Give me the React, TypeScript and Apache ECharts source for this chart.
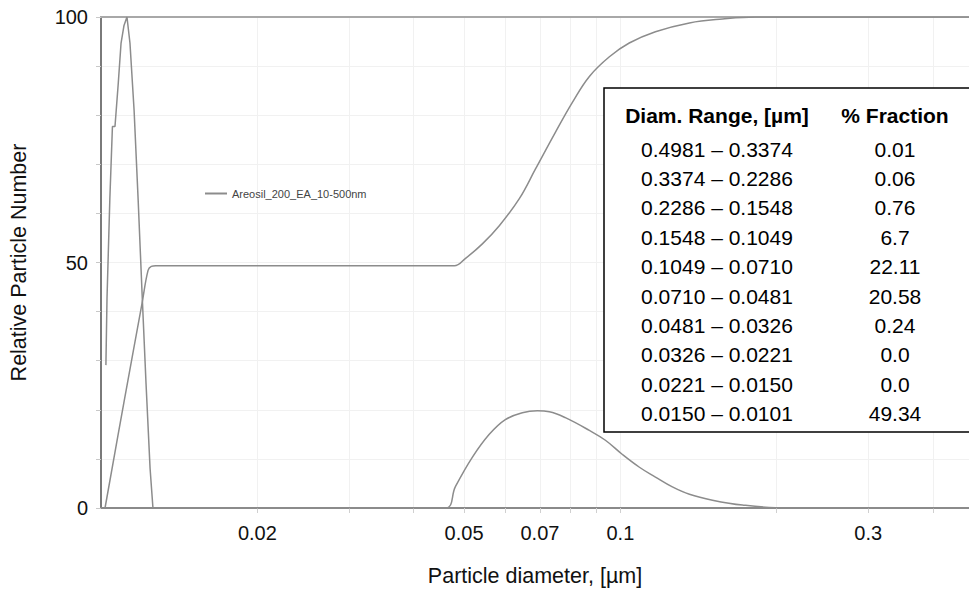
import React, { useEffect, useRef } from "react";
import * as echarts from "echarts";

// ---- Data (diameters in µm, values in relative particle number) ----
const seriesName = "Areosil_200_EA_10-500nm";

// Narrow spike of the number distribution
const spikeDiam = [0.01022, 0.01027, 0.01040, 0.01052, 0.01064, 0.01079, 0.01093, 0.01107, 0.01122, 0.01137, 0.01158, 0.01179, 0.01200, 0.01221, 0.01243, 0.01259];
const spikeValue = [29.1, 42.7, 63.0, 77.7, 77.7, 86.2, 94.7, 98.2, 100, 94.7, 81.0, 62.8, 43.5, 25.3, 8.1, 0];

// Second (broad) mode of the number distribution
const bellDiam = [0.01259, 0.0460, 0.0481, 0.05186, 0.05592, 0.06004, 0.06474, 0.06921, 0.07297, 0.07834, 0.08715, 0.09357, 0.1009, 0.1088, 0.1168, 0.1259, 0.1358, 0.1504, 0.1718, 0.2098, 0.469];
const bellValue = [0, 0, 4.3, 10.3, 15.0, 18.0, 19.4, 19.8, 19.6, 18.4, 15.8, 13.8, 10.9, 8.3, 6.3, 4.3, 2.8, 1.6, 0.6, 0, 0];

// Cumulative curve
const cumDiam = [0.01018, 0.01107, 0.01200, 0.01232, 0.01250, 0.01275, 0.0135, 0.04789, 0.05027, 0.05423, 0.05846, 0.06389, 0.06860, 0.07496, 0.08083, 0.08715, 0.09524, 0.1040, 0.1168, 0.1358, 0.1573, 0.1820, 0.2243, 0.469];
const cumValue = [0, 21.5, 41.8, 48.4, 49.2, 49.34, 49.34, 49.34, 50.8, 53.8, 57.5, 63.0, 69.0, 76.5, 82.6, 87.9, 91.9, 94.7, 97.0, 98.8, 99.6, 100, 100, 100];

// Axes (visible window of the log diameter axis)
const xMin = 0.01;
const xMax = 0.469;
const xTickValues = [0.02, 0.03, 0.04, 0.05, 0.06, 0.07, 0.08, 0.09, 0.1, 0.2, 0.3, 0.4];
const xLabelValues = [0.02, 0.05, 0.07, 0.1, 0.3];
const xLabelTexts = ["0.02", "0.05", "0.07", "0.1", "0.3"];
const yLabelValues = [0, 50, 100];

// Table
const tableHeaders = ["Diam. Range, [µm]", "% Fraction"];
const rangeLabels = [
  "0.4981 – 0.3374",
  "0.3374 – 0.2286",
  "0.2286 – 0.1548",
  "0.1548 – 0.1049",
  "0.1049 – 0.0710",
  "0.0710 – 0.0481",
  "0.0481 – 0.0326",
  "0.0326 – 0.0221",
  "0.0221 – 0.0150",
  "0.0150 – 0.0101",
];
const fractionLabels = ["0.01", "0.06", "0.76", "6.7", "22.11", "20.58", "0.24", "0.0", "0.0", "49.34"];

const FONT = "'Liberation Sans', Arial, sans-serif";
const LINE = "#8c8c8c";

const toPts = (ds: number[], vs: number[]) => ds.map((d, i) => [Math.log10(d), vs[i]]);

export default function App() {
  const ref = useRef<HTMLDivElement>(null);
  useEffect(() => {
    if (!ref.current) return;
    const chart = echarts.init(ref.current, undefined, { renderer: "svg" });

    const tableGraphics: any[] = [
      {
        type: "rect",
        shape: { x: 604, y: 88, width: 420, height: 344 },
        style: { fill: "#fff", stroke: "#000", lineWidth: 1.5 },
        z: 100,
      },
      {
        type: "text",
        x: 717,
        y: 115,
        style: { text: tableHeaders[0], font: `bold 21px ${FONT}`, fill: "#000", align: "center", verticalAlign: "middle" },
        z: 101,
      },
      {
        type: "text",
        x: 895,
        y: 115,
        style: { text: tableHeaders[1], font: `bold 21px ${FONT}`, fill: "#000", align: "center", verticalAlign: "middle" },
        z: 101,
      },
    ];
    rangeLabels.forEach((r, i) => {
      tableGraphics.push({
        type: "text",
        x: 717,
        y: 149 + i * 29.4,
        style: { text: r, font: `21px ${FONT}`, fill: "#000", align: "center", verticalAlign: "middle" },
        z: 101,
      });
      tableGraphics.push({
        type: "text",
        x: 895,
        y: 149 + i * 29.4,
        style: { text: fractionLabels[i], font: `21px ${FONT}`, fill: "#000", align: "center", verticalAlign: "middle" },
        z: 101,
      });
    });

    const lineCommon = {
      type: "line",
      name: seriesName,
      showSymbol: false,
      symbol: "none",
      lineStyle: { color: LINE, width: 1.5 },
      itemStyle: { color: LINE },
      emphasis: { disabled: true },
    };

    chart.setOption({
      animation: false,
      backgroundColor: "#fff",
      textStyle: { fontFamily: FONT },
      grid: {
        left: 100,
        right: 0,
        top: 17,
        bottom: 81,
      },
      legend: {
        left: 200,
        top: 183,
        data: [seriesName],
        icon: "rect",
        itemWidth: 22,
        itemHeight: 2,
        itemGap: 8,
        textStyle: { fontSize: 11, color: "#444", fontFamily: FONT },
      },
      xAxis: [
        {
          type: "value",
          min: Math.log10(xMin),
          max: Math.log10(xMax),
          name: "Particle diameter, [µm]",
          nameLocation: "middle",
          nameGap: 57,
          nameTextStyle: { fontSize: 21.5, color: "#111", fontFamily: FONT },
          axisLine: { show: true, onZero: false, lineStyle: { color: "#8a8a8a", width: 2 } },
          axisTick: {
            show: true,
            length: 5,
            customValues: xTickValues.map((v) => Math.log10(v)),
            lineStyle: { color: "#d0d0d0" },
          },
          axisLabel: {
            customValues: xLabelValues.map((v) => Math.log10(v)),
            formatter: (v: number) => {
              const i = xLabelValues.findIndex((t) => Math.abs(Math.log10(t) - v) < 1e-6);
              return i >= 0 ? xLabelTexts[i] : "";
            },
            fontSize: 20,
            color: "#111",
            margin: 15,
            fontFamily: FONT,
          },
          splitLine: { show: true, lineStyle: { color: "#f1f1f1", width: 1 } },
        },
        {
          type: "value",
          position: "top",
          min: Math.log10(xMin),
          max: Math.log10(xMax),
          axisLine: { show: true, onZero: false, lineStyle: { color: "#a8a8a8", width: 2 } },
          axisTick: { show: false },
          axisLabel: { show: false },
          splitLine: { show: false },
        },
      ],
      yAxis: {
        type: "value",
        min: 0,
        max: 100,
        interval: 10,
        name: "Relative Particle Number",
        nameLocation: "middle",
        nameGap: 71,
        nameTextStyle: { fontSize: 21.5, color: "#111", fontFamily: FONT },
        axisLine: { show: true, lineStyle: { color: "#7a7a7a", width: 2 } },
        axisTick: { show: true, length: 5, lineStyle: { color: "#c8c8c8" } },
        axisLabel: {
          customValues: yLabelValues,
          fontSize: 20,
          color: "#111",
          margin: 13,
          fontFamily: FONT,
        },
        splitLine: { show: true, lineStyle: { color: "#f1f1f1", width: 1 } },
      },
      series: [
        { ...lineCommon, data: toPts(spikeDiam, spikeValue) },
        { ...lineCommon, data: toPts(bellDiam, bellValue), smooth: 0.4 },
        { ...lineCommon, data: toPts(cumDiam, cumValue), smooth: 0.4 },
      ],
      graphic: tableGraphics,
    });
    return () => chart.dispose();
  }, []);
  return (
    <div
      ref={ref}
      style={{ position: "fixed", left: 0, top: 0, width: 969, height: 592, background: "#fff" }}
    />
  );
}
